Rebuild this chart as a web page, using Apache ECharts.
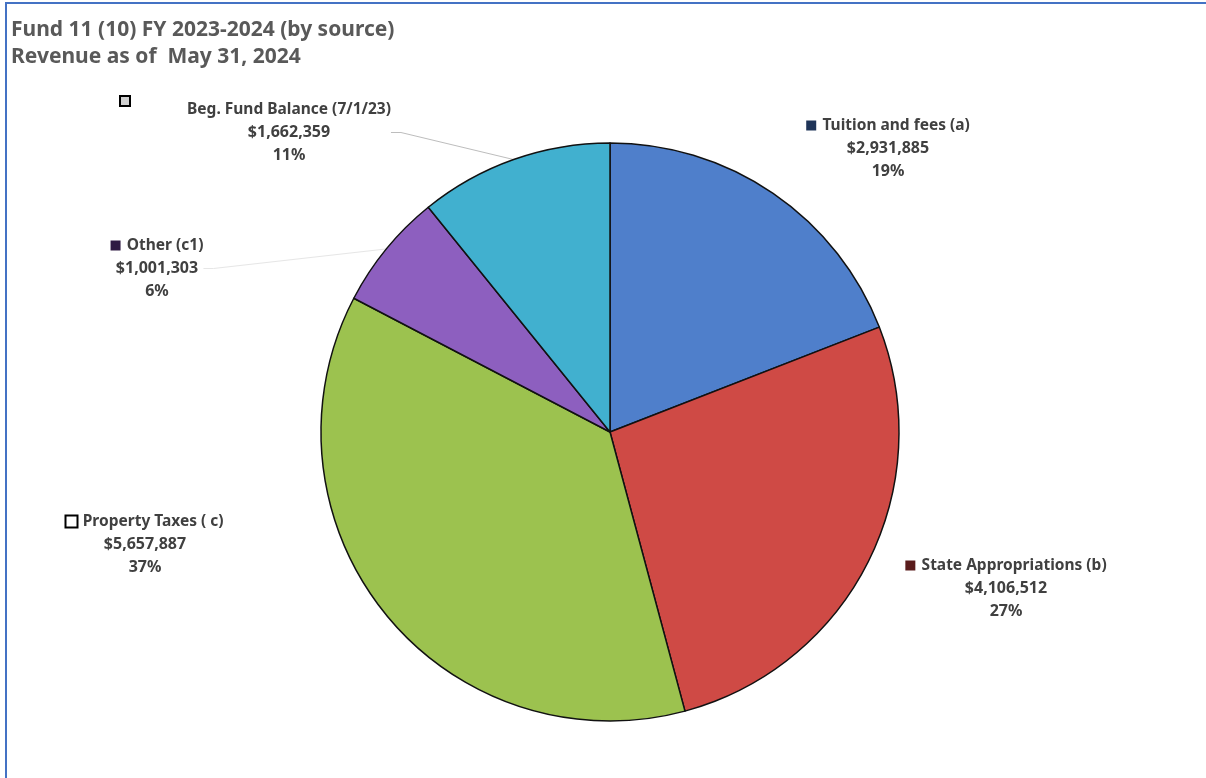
<!DOCTYPE html>
<html>
<head>
<meta charset="utf-8">
<script src="https://cdn.jsdelivr.net/npm/echarts@6/dist/echarts.min.js"></script>
<style>
  html, body { margin: 0; padding: 0; background: #fff; }
  #main { width: 1206px; height: 778px; }
</style>
</head>
<body>
<div id="main"></div>
<script>
// revenue by source, clockwise from 12 o'clock
var sources = ['Tuition and fees (a)', 'State Appropriations (b)', 'Property Taxes ( c)', 'Other (c1)', 'Beg. Fund Balance (7/1/23)'];
var amounts = [2931885, 4106512, 5657887, 1001303, 1662359];
var sliceColors = ['#4f7fcb', '#cf4a45', '#9cc24f', '#8d5fbf', '#41b0cf'];
var keyColors = ['#1f3458', '#5a1c1c', '#ffffff', '#2e1a42', '#d0d0d0'];
// where each label block sits (center x, top y)
var labelPos = [[888, 114], [1006, 554], [145, 510], [157, 234], [289, 98]];

var chart = echarts.init(document.getElementById('main'));

function money(v) {
  return '$' + v.toString().replace(/\B(?=(\d{3})+(?!\d))/g, ',');
}

var data = sources.map(function (s, i) {
  return {
    name: s,
    value: amounts[i],
    itemStyle: { color: sliceColors[i] },
    label: {
      rich: {
        k: {
          width: 10, height: 10,
          backgroundColor: keyColors[i],
          borderColor: (i == 2 || i == 4) ? '#000' : keyColors[i],
          borderWidth: (i == 2 || i == 4) ? 2 : 0
        }
      }
    },
    labelLine: {
      show: i == 4 || i == 3,
      lineStyle: { color: i == 4 ? '#bdbdbd' : '#e6e6e6', width: 1 }
    }
  };
});

var option = {
  backgroundColor: '#fff',
  animation: false,
  textStyle: { fontFamily: 'Noto Sans' },
  title: {
    text: 'Fund 11 (10) FY 2023-2024 (by source)\nRevenue as of  May 31, 2024',
    left: 6, top: 12,
    textStyle: { fontSize: 21, fontWeight: 'bold', color: '#595959', lineHeight: 27 }
  },
  graphic: [
    {
      type: 'polyline',
      shape: { points: [[6, 778], [6, 3], [1206, 3]] },
      style: { stroke: '#4472c4', lineWidth: 2, fill: null }
    },
    // hollow key for the opening balance sits apart from its label
    {
      type: 'rect',
      shape: { x: 120, y: 96, width: 10, height: 10 },
      style: { fill: keyColors[4], stroke: '#000', lineWidth: 2 }
    }
  ],
  series: [{
    type: 'pie',
    center: [610, 432],
    radius: 289,
    startAngle: 90,
    clockwise: true,
    percentPrecision: 0,
    data: data,
    itemStyle: { borderColor: '#111', borderWidth: 1.5 },
    label: {
      show: true,
      position: 'outside',
      formatter: function (p) {
        return (p.dataIndex == 4 ? '' : '{k|}  ') + '{n|' + p.name + '}\n{v|' + money(p.value) + '}\n{v|' + p.percent + '%}';
      },
      align: 'center',
      rich: {
        n: { fontSize: 15.5, fontWeight: 'bold', color: '#404040', lineHeight: 23 },
        v: { fontSize: 16, fontWeight: 'bold', color: '#404040', lineHeight: 23, align: 'center' }
      }
    },
    labelLine: { length: 10, length2: 10 },
    labelLayout: function (p) {
      var pos = labelPos[p.dataIndex];
      return { x: pos[0], y: pos[1], align: 'center', verticalAlign: 'top' };
    }
  }]
};

chart.setOption(option);
</script>
</body>
</html>
